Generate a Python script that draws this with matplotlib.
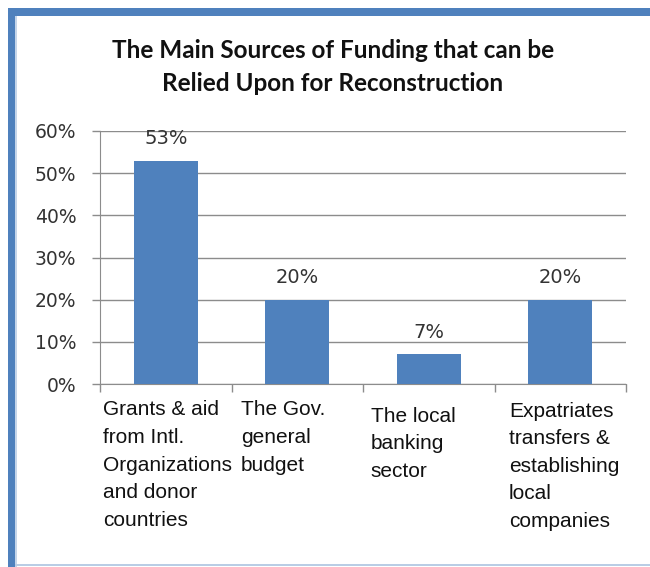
import matplotlib
matplotlib.use("Agg")
import matplotlib.pyplot as plt
from matplotlib.patches import Rectangle
from matplotlib.transforms import blended_transform_factory
import numpy as np

title = "The Main Sources of Funding that can be\nRelied Upon for Reconstruction"
categories = [
    "Grants & aid\nfrom Intl.\nOrganizations\nand donor\ncountries",
    "The Gov.\ngeneral\nbudget",
    "The local\nbanking\nsector",
    "Expatriates\ntransfers &\nestablishing\nlocal\ncompanies",
]
shares = [53, 20, 7, 20]  # percent
yticks = [0, 10, 20, 30, 40, 50, 60]

BAR_BLUE = "#4F81BD"
GRID = "#8C8C8C"

W, H, DPI = 650, 567, 100
fig = plt.figure(figsize=(W / DPI, H / DPI), dpi=DPI)
fig.patch.set_facecolor("white")


def px_rect(x0, y0, x1, y1, color):
    # rectangle given in pixel coords measured from the top-left corner
    fig.add_artist(Rectangle((x0 / W, 1 - y1 / H), (x1 - x0) / W, (y1 - y0) / H,
                             transform=fig.transFigure, facecolor=color,
                             edgecolor="none", zorder=10))


# frame around the chart area
px_rect(8, 8, W, 16, BAR_BLUE)
px_rect(8, 8, 15, H, BAR_BLUE)
px_rect(15, 16, 17, H, "#C6D6EA")
px_rect(15, 564, W, 566, "#B9CDE5")

ax = fig.add_axes([100 / W, 1 - 384 / H, (626 - 100) / W, (384 - 131) / H])

xs = np.arange(len(shares))
ax.bar(xs, shares, width=0.485, color=BAR_BLUE, zorder=3)
for x, v in zip(xs, shares):
    ax.text(x, v + 5.3, f"{v}%", ha="center", va="center", fontsize=14,
            color="#333333", zorder=4)

ax.set_xlim(-0.5, len(shares) - 0.5)
ax.set_ylim(0, 60)
ax.set_yticks(yticks)
ax.set_yticklabels([f"{t}%" for t in yticks], fontsize=13.5, color="#333333")
ax.yaxis.grid(True, color=GRID, linewidth=1)
ax.set_axisbelow(True)

# category boundaries carry the x ticks; labels are placed by hand below
ax.set_xticks(np.arange(len(shares) + 1) - 0.5)
ax.set_xticklabels([])
ax.tick_params(axis="x", direction="out", length=6, color=GRID, width=1)
ax.tick_params(axis="y", direction="out", length=6, color=GRID, width=1, pad=11)

for side in ["top", "right"]:
    ax.spines[side].set_visible(False)
for side in ["left", "bottom"]:
    ax.spines[side].set_color(GRID)

trans = blended_transform_factory(ax.transData, ax.transAxes)
label_dx = [0.02, 0.07, 0.06, 0.11]
label_dy = [-0.065, -0.065, -0.09, -0.07]
for x, lab, dx, dy in zip(xs, categories, label_dx, label_dy):
    ax.text(x - 0.5 + dx, dy, lab, transform=trans, ha="left", va="top",
            fontsize=15, family="Liberation Sans", color="#111111",
            linespacing=1.57)

fig.text(333 / W, 1 - 67 / H, title, ha="center", va="center", fontsize=17.5,
         family="Lato", fontweight="bold", color="#111111", linespacing=1.55)

fig.savefig("out.png", dpi=DPI)
